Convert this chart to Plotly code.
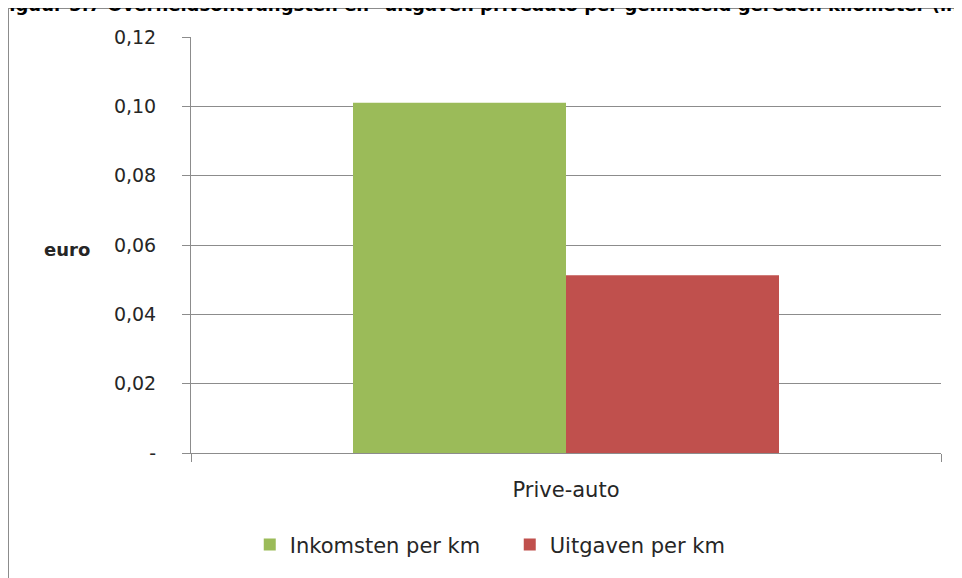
import plotly.graph_objects as go

# data
categories = ['Prive-auto']
inkomsten = [0.101]
uitgaven = [0.0513]
y_tickvals = [0, 0.02, 0.04, 0.06, 0.08, 0.10, 0.12]
y_ticktext = ['-', '0,02', '0,04', '0,06', '0,08', '0,10', '0,12']

AXIS_GREY = '#8c8c8c'
TEXT = '#262626'

fig = go.Figure()

fig.add_trace(go.Bar(
    x=categories,
    y=inkomsten,
    name='Inkomsten per km',
    marker=dict(color='#9BBB59', line=dict(width=0))
))

fig.add_trace(go.Bar(
    x=categories,
    y=uitgaven,
    name='Uitgaven per km',
    marker=dict(color='#C0504D', line=dict(width=0))
))

# outer chart frame (left and top edges visible only)
fig.add_shape(type='line', xref='paper', yref='paper',
              x0=-0.244, x1=1.05, y0=1.0697, y1=1.0697,
              line=dict(color=AXIS_GREY, width=2))
fig.add_shape(type='line', xref='paper', yref='paper',
              x0=-0.244, x1=-0.244, y0=1.0697, y1=-0.33,
              line=dict(color=AXIS_GREY, width=2))

# y axis title
fig.add_annotation(text='<b>euro</b>', xref='paper', yref='paper',
                   x=-0.165, y=0.49, xanchor='center', yanchor='middle',
                   showarrow=False,
                   font=dict(family='DejaVu Sans', size=18, color=TEXT))

# figure caption, cut off at the top of the image
fig.add_annotation(
    text='<b>Figuur 5.7 Overheidsontvangsten en \u2013uitgaven priv\u00e9auto per gemiddeld gereden kilometer (in euro)</b>',
    xref='paper', yref='paper', x=-0.262, y=1.079,
    xanchor='left', yanchor='middle', showarrow=False,
    font=dict(family='DejaVu Sans', size=18, color='#000000'))

fig.update_layout(
    width=962,
    height=578,
    margin=dict(l=183, r=29, t=29, b=133),
    paper_bgcolor='white',
    plot_bgcolor='white',
    barmode='group',
    bargap=0.432,
    bargroupgap=0,
    showlegend=True,
    legend=dict(
        orientation='h',
        x=0.425, xanchor='center',
        y=-0.221, yanchor='middle',
        font=dict(family='DejaVu Sans', size=21, color=TEXT),
        itemsizing='constant',
        entrywidth=215,
        entrywidthmode='pixels',
    ),
    xaxis=dict(
        type='category',
        range=[-0.5, 0.5],
        showline=True,
        linecolor=AXIS_GREY,
        linewidth=1,
        ticks='outside',
        tickson='boundaries',
        ticklen=8,
        tickcolor=AXIS_GREY,
        ticklabelstandoff=18,
        showgrid=False,
        tickfont=dict(family='DejaVu Sans', size=21, color=TEXT),
    ),
    yaxis=dict(
        range=[0, 0.12],
        tickvals=y_tickvals,
        ticktext=y_ticktext,
        showline=True,
        linecolor=AXIS_GREY,
        linewidth=1,
        ticks='outside',
        ticklen=8,
        tickcolor=AXIS_GREY,
        ticklabelstandoff=22,
        showgrid=True,
        gridcolor=AXIS_GREY,
        gridwidth=1,
        zeroline=False,
        tickfont=dict(family='DejaVu Sans', size=19, color=TEXT),
    ),
)

fig.write_html('out.html')
